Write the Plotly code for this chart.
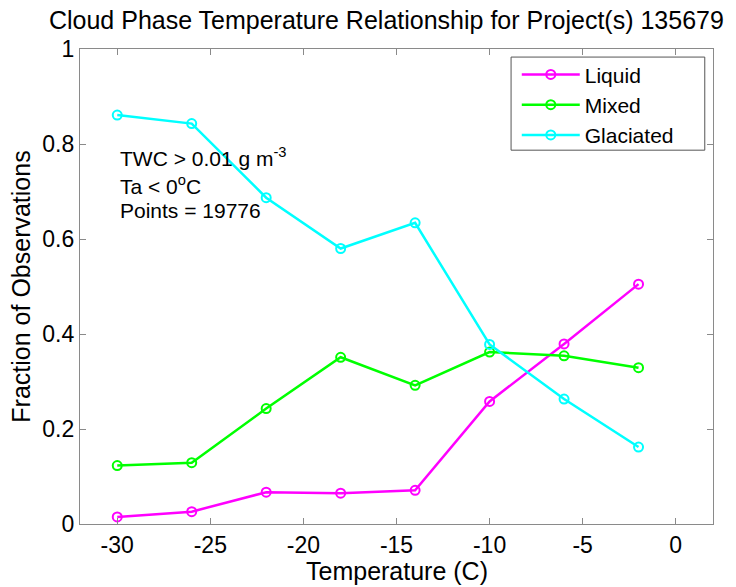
import plotly.graph_objects as go

temps = [-30, -26, -22, -18, -14, -10, -6, -2]
liquid = [0.015, 0.026, 0.067, 0.065, 0.071, 0.258, 0.379, 0.505]
mixed = [0.123, 0.129, 0.243, 0.351, 0.292, 0.362, 0.354, 0.329]
glaciated = [0.861, 0.843, 0.687, 0.580, 0.634, 0.378, 0.263, 0.162]

series_names = ["Liquid", "Mixed", "Glaciated"]
series_colors = ["#FF00FF", "#00FF00", "#00FFFF"]
series_values = [liquid, mixed, glaciated]

x_ticks = [-30, -25, -20, -15, -10, -5, 0]
x_tick_text = ["-30", "-25", "-20", "-15", "-10", "-5", "0"]
y_ticks = [0, 0.2, 0.4, 0.6, 0.8, 1]
y_tick_text = ["0", "0.2", "0.4", "0.6", "0.8", "1"]

FONT = "Arial, Liberation Sans, sans-serif"

fig = go.Figure()
for name, color, vals in zip(series_names, series_colors, series_values):
    fig.add_trace(go.Scatter(
        x=temps, y=vals, name=name, mode="lines+markers",
        line=dict(color=color, width=2.5),
        marker=dict(symbol="circle-open", size=9, color=color, line=dict(width=2, color=color)),
    ))

axis_common = dict(
    showline=True, linecolor="#8a8a8a", linewidth=1.2, mirror="allticks",
    ticks="inside", ticklen=6, tickcolor="#8a8a8a", tickwidth=1,
    showgrid=False, zeroline=False,
    tickfont=dict(family=FONT, size=23, color="black"),
)

fig.update_layout(
    width=736, height=587,
    margin=dict(l=80, r=23, t=49, b=63),
    paper_bgcolor="white", plot_bgcolor="white",
    title=dict(text="Cloud Phase Temperature Relationship for Project(s) 135679",
               x=0.525, xanchor="center", y=0.965, yanchor="middle",
               font=dict(family=FONT, size=25, color="black")),
    xaxis=dict(range=[-32, 2], tickvals=x_ticks, ticktext=x_tick_text, **axis_common),
    yaxis=dict(range=[0, 1], tickvals=y_ticks, ticktext=y_tick_text,
               title=dict(text="Fraction of Observations", font=dict(family=FONT, size=25, color="black"), standoff=4),
               **axis_common),
    legend=dict(x=0.690, y=0.989, xanchor="left", yanchor="top",
                borderwidth=0, bgcolor="rgba(0,0,0,0)",
                font=dict(family=FONT, size=21, color="black"),
                tracegroupgap=0, itemwidth=58),
    showlegend=True,
)

# legend frame (MATLAB-style box)
fig.add_shape(type="rect", xref="paper", yref="paper",
              x0=0.681, x1=0.987, y0=0.787, y1=0.983,
              line=dict(color="#555555", width=1), fillcolor="white", layer="above")

fig.add_annotation(text="Temperature (C)", xref="paper", yref="paper", x=0.5, y=-0.099,
                   xanchor="center", yanchor="middle", showarrow=False,
                   font=dict(family=FONT, size=25, color="black"))

ann_font = dict(family=FONT, size=21, color="black")
for text, yy in [("TWC > 0.01 g m<sup>-3</sup>", 0.772),
                 ("Ta < 0<sup>o</sup>C", 0.713),
                 ("Points = 19776", 0.660)]:
    fig.add_annotation(text=text, xref="paper", yref="paper", x=0.06, y=yy,
                       xanchor="left", yanchor="middle", showarrow=False, font=ann_font)

fig.write_html("out.html")
